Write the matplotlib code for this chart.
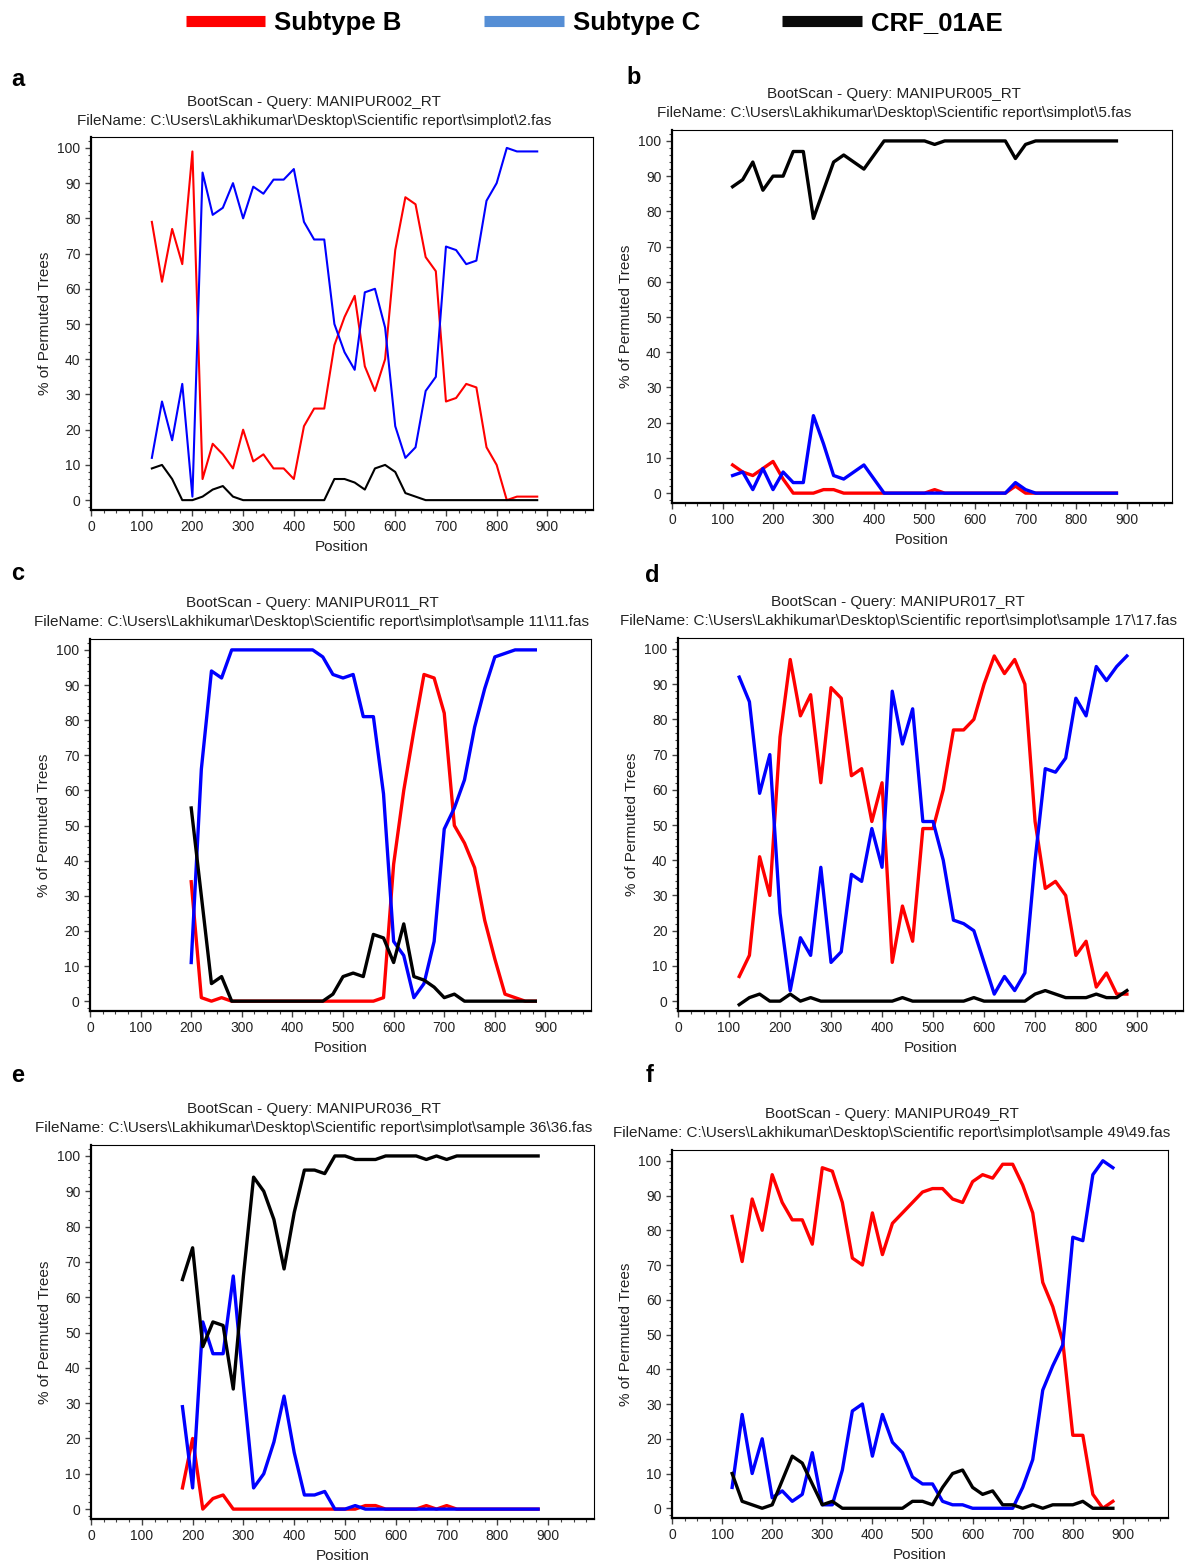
import matplotlib
matplotlib.use('Agg')
import matplotlib.pyplot as plt
from matplotlib.lines import Line2D
from matplotlib.ticker import MultipleLocator

plt.rcParams['font.family'] = ['Liberation Sans', 'DejaVu Sans']

# window centres (bp) used by the bootscan
pos_120 = [120, 140, 160, 180, 200, 220, 240, 260, 280, 300, 320, 340, 360, 380, 400,
           420, 440, 460, 480, 500, 520, 540, 560, 580, 600, 620, 640, 660, 680, 700,
           720, 740, 760, 780, 800, 820, 840, 860, 880]
pos_200 = pos_120[4:]
pos_180 = pos_120[3:]

# a - MANIPUR002
a_B = [79, 62, 77, 67, 99, 6, 16, 13, 9, 20, 11, 13, 9, 9, 6, 21, 26, 26, 44, 52,
       58, 38, 31, 40, 71, 86, 84, 69, 65, 28, 29, 33, 32, 15, 10, 0, 1, 1, 1]
a_C = [12, 28, 17, 33, 1, 93, 81, 83, 90, 80, 89, 87, 91, 91, 94, 79, 74, 74, 50, 42,
       37, 59, 60, 49, 21, 12, 15, 31, 35, 72, 71, 67, 68, 85, 90, 100, 99, 99, 99]
a_AE = [9, 10, 6, 0, 0, 1, 3, 4, 1, 0, 0, 0, 0, 0, 0, 0, 0, 0, 6, 6,
        5, 3, 9, 10, 8, 2, 1, 0, 0, 0, 0, 0, 0, 0, 0, 0, 0, 0, 0]

# b - MANIPUR005
b_B = [8, 6, 5, 7, 9, 4, 0, 0, 0, 1, 1, 0, 0, 0, 0, 0, 0, 0, 0, 0,
       1, 0, 0, 0, 0, 0, 0, 0, 2, 0, 0, 0, 0, 0, 0, 0, 0, 0, 0]
b_C = [5, 6, 1, 7, 1, 6, 3, 3, 22, 14, 5, 4, 6, 8, 4, 0, 0, 0, 0, 0,
       0, 0, 0, 0, 0, 0, 0, 0, 3, 1, 0, 0, 0, 0, 0, 0, 0, 0, 0]
b_AE = [87, 89, 94, 86, 90, 90, 97, 97, 78, 86, 94, 96, 94, 92, 96, 100, 100, 100, 100, 100,
        99, 100, 100, 100, 100, 100, 100, 100, 95, 99, 100, 100, 100, 100, 100, 100, 100, 100, 100]

# c - MANIPUR011 (starts at 200)
c_B = [34, 1, 0, 1, 0, 0, 0, 0, 0, 0, 0, 0, 0, 0, 0, 0, 0, 0, 0,
       1, 39, 60, 77, 93, 92, 82, 50, 45, 38, 23, 12, 2, 1, 0, 0]
c_C = [11, 66, 94, 92, 100, 100, 100, 100, 100, 100, 100, 100, 100, 98, 93, 92, 93, 81, 81,
       59, 17, 13, 1, 5, 17, 49, 55, 63, 78, 89, 98, 99, 100, 100, 100]
c_AE = [55, 30, 5, 7, 0, 0, 0, 0, 0, 0, 0, 0, 0, 0, 2, 7, 8, 7, 19,
        18, 11, 22, 7, 6, 4, 1, 2, 0, 0, 0, 0, 0, 0, 0, 0]

# d - MANIPUR017
d_B = [7, 13, 41, 30, 75, 97, 81, 87, 62, 89, 86, 64, 66, 51, 62, 11, 27, 17, 49, 49,
       60, 77, 77, 80, 90, 98, 93, 97, 90, 51, 32, 34, 30, 13, 17, 4, 8, 2, 2]
d_C = [92, 85, 59, 70, 25, 3, 18, 13, 38, 11, 14, 36, 34, 49, 38, 88, 73, 83, 51, 51,
       40, 23, 22, 20, 11, 2, 7, 3, 8, 40, 66, 65, 69, 86, 81, 95, 91, 95, 98]
d_AE = [-1, 1, 2, 0, 0, 2, 0, 1, 0, 0, 0, 0, 0, 0, 0, 0, 1, 0, 0, 0,
        0, 0, 0, 1, 0, 0, 0, 0, 0, 2, 3, 2, 1, 1, 1, 2, 1, 1, 3]

# e - MANIPUR036 (starts at 180)
e_B = [6, 20, 0, 3, 4, 0, 0, 0, 0, 0, 0, 0, 0, 0, 0, 0, 0, 0,
       1, 1, 0, 0, 0, 0, 1, 0, 1, 0, 0, 0, 0, 0, 0, 0, 0, 0]
e_C = [29, 6, 53, 44, 44, 66, 35, 6, 10, 19, 32, 16, 4, 4, 5, 0, 0, 1,
       0, 0, 0, 0, 0, 0, 0, 0, 0, 0, 0, 0, 0, 0, 0, 0, 0, 0]
e_AE = [65, 74, 46, 53, 52, 34, 66, 94, 90, 82, 68, 84, 96, 96, 95, 100, 100, 99,
        99, 99, 100, 100, 100, 100, 99, 100, 99, 100, 100, 100, 100, 100, 100, 100, 100, 100]

# f - MANIPUR049
f_B = [84, 71, 89, 80, 96, 88, 83, 83, 76, 98, 97, 88, 72, 70, 85, 73, 82, 85, 88, 91,
       92, 92, 89, 88, 94, 96, 95, 99, 99, 93, 85, 65, 58, 48, 21, 21, 4, 0, 2]
f_C = [6, 27, 10, 20, 3, 5, 2, 4, 16, 1, 1, 11, 28, 30, 15, 27, 19, 16, 9, 7,
       7, 2, 1, 1, 0, 0, 0, 0, 0, 6, 14, 34, 41, 47, 78, 77, 96, 100, 98]
f_AE = [10, 2, 1, 0, 1, 8, 15, 13, 7, 1, 2, 0, 0, 0, 0, 0, 0, 0, 2, 2,
        1, 6, 10, 11, 6, 4, 5, 1, 1, 0, 1, 0, 1, 1, 1, 2, 0, 0, 0]

panel_letters = ['a', 'b', 'c', 'd', 'e', 'f']
queries = ['MANIPUR002_RT', 'MANIPUR005_RT', 'MANIPUR011_RT',
           'MANIPUR017_RT', 'MANIPUR036_RT', 'MANIPUR049_RT']
fas_files = ['2.fas', '5.fas', 'sample 11\\11.fas',
             'sample 17\\17.fas', 'sample 36\\36.fas', 'sample 49\\49.fas']
legend_labels = ['Subtype B', 'Subtype C', 'CRF_01AE']

panels = [(pos_120, a_B, a_C, a_AE), (pos_120, b_B, b_C, b_AE),
          (pos_200, c_B, c_C, c_AE), (pos_120, d_B, d_C, d_AE),
          (pos_180, e_B, e_C, e_AE), (pos_120, f_B, f_C, f_AE)]

W, H = 1190, 1564
fig = plt.figure(figsize=(W / 100, H / 100), dpi=100)

# axes boxes in pixels: left, top, right, bottom
boxes = [(91, 137, 593, 510), (672, 130, 1172, 503),
         (90, 639, 591, 1011), (678, 638, 1183, 1011),
         (91, 1145, 594, 1519), (672, 1150, 1168, 1518)]
title_x = [314, 894, 312, 898, 314, 892]
title_y = [102, 94, 603, 602, 1109, 1114]
letter_xy = [(18, 79), (634, 78), (18, 573), (652, 575), (18, 1076), (650, 1075)]
line_w = [1.5, 2.4, 2.4, 2.4, 2.4, 2.4]

colB, colC, colAE = '#ff0000', '#0000ff', '#000000'

for i, (x, yB, yC, yAE) in enumerate(panels):
    l, t, r, b = boxes[i]
    ax = fig.add_axes([l / W, 1 - b / H, (r - l) / W, (b - t) / H])
    ax.plot(x, yB, color=colB, lw=line_w[i])
    ax.plot(x, yC, color=colC, lw=line_w[i])
    ax.plot(x, yAE, color=colAE, lw=line_w[i])

    ax.set_xlim(0, 990)
    ax.set_ylim(-2.8, 103.1)
    ax.xaxis.set_major_locator(MultipleLocator(100))
    ax.xaxis.set_minor_locator(MultipleLocator(25))
    ax.yaxis.set_major_locator(MultipleLocator(10))
    ax.yaxis.set_minor_locator(MultipleLocator(2))
    ax.set_xticks(range(0, 901, 100))
    ax.tick_params(which='both', direction='out', color='#444444', labelsize=10,
                   labelcolor='#222222')
    ax.tick_params(which='major', length=4, width=1)
    ax.tick_params(which='minor', length=2, width=0.8)
    for s in ['left', 'bottom']:
        ax.spines[s].set_linewidth(1.6)
    for s in ['top', 'right']:
        ax.spines[s].set_linewidth(0.8)

    ax.set_xlabel('Position', fontsize=11, color='#222222')
    ax.set_ylabel('% of Permuted Trees', fontsize=11, color='#222222')
    # xlabel anchored by its top, ylabel by its right side
    ax.xaxis.set_label_coords(0.5, -30 / (b - t))
    ax.yaxis.set_label_coords(-39 / (r - l), 0.5)

    fig.text(title_x[i] / W, 1 - title_y[i] / H, 'BootScan - Query: ' + queries[i],
             ha='center', va='center', fontsize=11, color='#222222')
    fig.text(title_x[i] / W, 1 - (title_y[i] + 19) / H,
             'FileName: C:\\Users\\Lakhikumar\\Desktop\\Scientific report\\simplot\\' + fas_files[i],
             ha='center', va='center', fontsize=11, color='#222222')
    fig.text(letter_xy[i][0] / W, 1 - letter_xy[i][1] / H, panel_letters[i],
             ha='center', va='center', fontsize=17, fontweight='bold')

# legend across the top
handles = [Line2D([], [], color=c, lw=8, solid_capstyle='butt')
           for c in ['#ff0000', '#558ed5', '#0a0a0a']]
fig.legend(handles, legend_labels, loc='center', bbox_to_anchor=(594 / W, 1 - 23 / H),
           ncol=3, frameon=False, handlelength=3.1, handletextpad=0.35,
           columnspacing=3.2, prop={'weight': 'bold', 'size': 18.5})

plt.savefig('out.png', dpi=100)
